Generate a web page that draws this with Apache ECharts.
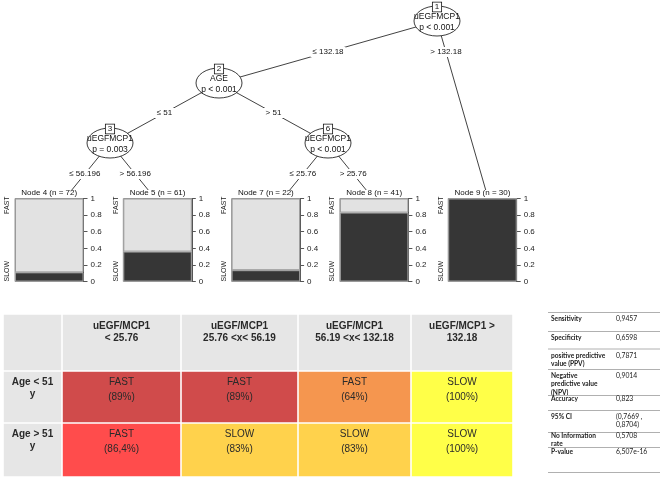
<!DOCTYPE html>
<html><head><meta charset="utf-8">
<script src="https://cdn.jsdelivr.net/npm/echarts@6/dist/echarts.min.js"></script>
<style>html,body{margin:0;padding:0;background:#fff}#c{width:671px;height:483px}</style>
</head><body><div id="c"></div>
<script>
// ---------------- data ----------------
const innerNodes = ['1', '2', '3', '6'];
const innerVars = ['uEGFMCP1', 'AGE', 'uEGFMCP1', 'uEGFMCP1'];
const innerPvals = ['p < 0.001', 'p < 0.001', 'p = 0.003', 'p < 0.001'];
const leafIds = ['4', '5', '7', '8', '9'];
const leafN = [72, 61, 22, 41, 30];
const slowShare = [0.11, 0.36, 0.136, 0.83, 1.0];
const fastShare = [0.89, 0.64, 0.864, 0.17, 0.0];
const classLabels = ['SLOW', 'FAST'];
const yTickStep = 0.2;
const edgeFrom = ['1', '1', '2', '2', '3', '3', '6', '6'];
const edgeTo = ['2', '9', '3', '6', '4', '5', '7', '8'];
const edgeLabels = ['≤ 132.18', '> 132.18', '≤ 51', '> 51', '≤ 56.196', '> 56.196', '≤ 25.76', '> 25.76'];

const colHeaders = ['', 'uEGF/MCP1\n< 25.76', 'uEGF/MCP1\n25.76 <x< 56.19', 'uEGF/MCP1\n56.19 <x< 132.18', 'uEGF/MCP1 >\n132.18'];
const rowHeaders = ['Age < 51\ny', 'Age > 51\ny'];
const cellClass = [['FAST', 'FAST', 'FAST', 'SLOW'], ['FAST', 'SLOW', 'SLOW', 'SLOW']];
const cellPct = [['89%', '89%', '64%', '100%'], ['86,4%', '83%', '83%', '100%']];

const statLabels = ['Sensitivity', 'Specificity', 'positive predictive\nvalue (PPV)', 'Negative\npredictive value\n(NPV)', 'Accuracy', '95% CI', 'No Information\nrate', 'P-value'];
const statValues = ['0,9457', '0,6598', '0,7871', '0,9014', '0,823', '(0,7669 ,\n0,8704)', '0,5708', '6,507e-16'];

// ---------------- layout & style ----------------
const F = "'Liberation Sans', Arial, Helvetica, sans-serif";
const FN = "Lato, 'Liberation Sans', sans-serif";
const nodePos = {'1': [437, 21], '2': [219, 83], '3': [110, 143], '6': [328, 143]};
const leafCenterX = [55.5, 164.5, 273.5, 382.5, 491.5];
const leafAimY = 210, leafTopY = 190;
const levelLabelY = {'1': 52, '2': 113, '3': 174, '6': 174};
const panelLeft = [15, 123.3, 231.6, 339.9, 448.2];
const panelW = 68.5, panelTop = 198.5, panelH = 83;
const colEdges = [3, 62, 181, 298, 411, 513];
const rowEdges = [314, 371, 423, 477];
const headBg = '#e6e6e6';
const cellColors = [['#d04b4b', '#d04b4b', '#f5964f', '#ffff48'], ['#ff4c4c', '#ffd24c', '#ffd24c', '#ffff48']];
const statLineY = [312, 331, 348.5, 369, 395, 410, 432, 447, 472];
const statTextY = [318.5, 337.5, 355.5, 376, 398.5, 417, 436, 452];
const statX0 = 548, statX1 = 660, statLabelX = 551, statValueX = 616, statLH = 8.2;
const ellipse = 'path://M0,50A50,50,0,1,1,100,50A50,50,0,1,1,0,50Z';

// ---------------- tree graph ----------------
const pos = {};
innerNodes.forEach(id => pos[id] = nodePos[id]);
const parentOf = {};
edgeTo.forEach((c, k) => parentOf[c] = edgeFrom[k]);
leafIds.forEach((id, i) => {
  const p = pos[parentOf[id]];
  const x = p[0] + (leafCenterX[i] - p[0]) * (leafTopY - p[1]) / (leafAimY - p[1]);
  pos[id] = [x, leafTopY];
});
const gNodes = [], gLinks = [];
const invisible = {color: 'rgba(0,0,0,0)', borderWidth: 0};
innerNodes.forEach((id, i) => {
  gNodes.push({
    name: id, value: pos[id], symbol: ellipse, symbolSize: [46, 30],
    itemStyle: {color: '#fff', borderColor: '#111', borderWidth: 0.8},
    z: 3,
    label: {
      show: true, position: 'inside', offset: [0, -3.5],
      formatter: '{b|' + id + '}\n{t|' + innerVars[i] + '}\n{t|' + innerPvals[i] + '}',
      rich: {
        b: {fontSize: 8, fontFamily: F, color: '#111', borderColor: '#111', borderWidth: 0.8, backgroundColor: '#fff', padding: [0, 2], lineHeight: 9, height: 9},
        t: {fontSize: 8.5, fontFamily: F, color: '#111', lineHeight: 10.5}
      }
    }
  });
});
leafIds.forEach(id => {
  gNodes.push({name: id, value: pos[id], symbol: 'circle', symbolSize: 1, itemStyle: invisible, label: {show: false}});
});
edgeFrom.forEach((p, k) => {
  const c = edgeTo[k];
  const a = pos[p], b = pos[c];
  const y = levelLabelY[p];
  const t = (y - a[1]) / (b[1] - a[1]);
  const x = a[0] + t * (b[0] - a[0]);
  const nm = 'e' + k;
  gNodes.push({
    name: nm, value: [x, y], symbol: 'circle', symbolSize: 1, itemStyle: invisible,
    label: {show: true, position: 'inside', formatter: edgeLabels[k], fontSize: 8, fontFamily: F, color: '#111',
      backgroundColor: '#fff', padding: [1, 2]}
  });
  gLinks.push({source: p, target: nm});
  gLinks.push({source: nm, target: c});
});

// ---------------- option ----------------
const grids = [{left: 0, top: 0, width: 671, height: 483, show: false}];
const xAxes = [{type: 'value', gridIndex: 0, min: 0, max: 671, show: false}];
const yAxes = [{type: 'value', gridIndex: 0, min: 0, max: 483, inverse: true, show: false}];
const series = [];

leafIds.forEach((id, i) => {
  const g = i + 1;
  grids.push({left: panelLeft[i], top: panelTop, width: panelW, height: panelH, show: true, borderColor: '#999', borderWidth: 1, backgroundColor: 'transparent'});
  xAxes.push({
    type: 'category', gridIndex: g, position: 'top', data: ['Node ' + id + ' (n = ' + leafN[i] + ')'],
    axisLine: {show: false}, axisTick: {show: false},
    axisLabel: {show: true, fontSize: 8, fontFamily: F, color: '#111', margin: 1.5, interval: 0}
  });
  yAxes.push({
    type: 'value', gridIndex: g, position: 'right', min: 0, max: 1, interval: yTickStep,
    axisLine: {show: true, lineStyle: {color: '#555', width: 1}},
    axisTick: {show: true, length: 4, lineStyle: {color: '#555'}},
    splitLine: {show: false},
    axisLabel: {fontSize: 8, fontFamily: F, color: '#222', margin: 7}
  });
  yAxes.push({
    type: 'value', gridIndex: g, position: 'left', min: 0, max: 1,
    axisLine: {show: false}, axisTick: {show: false}, splitLine: {show: false},
    axisLabel: {show: true, customValues: [0.124, 0.92], rotate: 90, fontSize: 7, fontFamily: F, color: '#222', margin: 4,
      formatter: v => v < 0.5 ? classLabels[0] : classLabels[1]}
  });
  series.push({
    type: 'bar', name: classLabels[0], xAxisIndex: g, yAxisIndex: 2 * i + 1, stack: 's' + i,
    data: [slowShare[i]], barWidth: '100%', silent: true,
    itemStyle: {color: '#363636', borderColor: '#999', borderWidth: 1}
  });
  series.push({
    type: 'bar', name: classLabels[1], xAxisIndex: g, yAxisIndex: 2 * i + 1, stack: 's' + i,
    data: [fastShare[i]], barWidth: '100%', silent: true,
    itemStyle: {color: '#e2e2e2', borderColor: '#999', borderWidth: 1}
  });
});

series.push({
  type: 'graph', coordinateSystem: 'cartesian2d', xAxisIndex: 0, yAxisIndex: 0,
  data: gNodes, links: gLinks, silent: true, z: 5,
  lineStyle: {color: '#111', width: 0.8, opacity: 1, curveness: 0},
  emphasis: {disabled: true}
});

// main table
const cells = [];
for (let r = 0; r < 3; r++) for (let c = 0; c < 5; c++) cells.push([c, r]);
series.push({
  type: 'custom', xAxisIndex: 0, yAxisIndex: 0, data: cells, silent: true, clip: false,
  renderItem: (params, api) => {
    const c = api.value(0), r = api.value(1);
    const p0 = api.coord([colEdges[c], rowEdges[r]]);
    const p1 = api.coord([colEdges[c + 1], rowEdges[r + 1]]);
    const g = 0.8;
    let fill = headBg, text = '', font = {fontSize: 10, fontWeight: 'bold', lineHeight: 12}, pad = 6.5;
    if (r === 0) { text = colHeaders[c]; }
    else if (c === 0) { text = rowHeaders[r - 1]; pad = 5.5; }
    else {
      fill = cellColors[r - 1][c - 1];
      text = cellClass[r - 1][c - 1] + '\n(' + cellPct[r - 1][c - 1] + ')';
      font = {fontSize: 10, fontWeight: 'normal', lineHeight: 14.5}; pad = 4;
    }
    return {
      type: 'group', children: [
        {type: 'rect', shape: {x: p0[0] + g, y: p0[1] + g, width: p1[0] - p0[0] - 2 * g, height: p1[1] - p0[1] - 2 * g}, style: {fill: fill}},
        {type: 'text', style: {text: text, x: (p0[0] + p1[0]) / 2, y: p0[1] + pad, align: 'center', verticalAlign: 'top',
          fontSize: font.fontSize, fontWeight: font.fontWeight, lineHeight: font.lineHeight, fontFamily: F, fill: '#2a2a2a'}}
      ]
    };
  }
});

// side stats table
series.push({
  type: 'custom', xAxisIndex: 0, yAxisIndex: 0, data: statLabels.map((s, i) => [i]), silent: true, clip: false,
  renderItem: (params, api) => {
    const i = api.value(0);
    const a = api.coord([statX0, statLineY[i]]), b = api.coord([statX1, statLineY[i]]);
    const ty = api.coord([0, statTextY[i] - statLH / 2])[1];
    const lx = api.coord([statLabelX, 0])[0], vx = api.coord([statValueX, 0])[0];
    const ch = [
      {type: 'line', shape: {x1: a[0], y1: a[1] + 0.5, x2: b[0], y2: b[1] + 0.5}, style: {stroke: '#b0b0b0', lineWidth: 1}},
      {type: 'text', style: {text: statLabels[i], x: lx, y: ty, align: 'left', verticalAlign: 'top', fontSize: 6.6, fontWeight: 'bold', lineHeight: statLH, fontFamily: FN, fill: '#222'}},
      {type: 'text', style: {text: statValues[i], x: vx, y: ty, align: 'left', verticalAlign: 'top', fontSize: 6.8, lineHeight: statLH, fontFamily: FN, fill: '#222'}}
    ];
    if (i === statLabels.length - 1) {
      const e = api.coord([statX0, statLineY[i + 1]]), f = api.coord([statX1, statLineY[i + 1]]);
      ch.push({type: 'line', shape: {x1: e[0], y1: e[1] + 0.5, x2: f[0], y2: f[1] + 0.5}, style: {stroke: '#b0b0b0', lineWidth: 1}});
    }
    return {type: 'group', children: ch};
  }
});

const chart = echarts.init(document.getElementById('c'));
chart.setOption({animation: false, backgroundColor: '#fff', grid: grids, xAxis: xAxes, yAxis: yAxes, series: series});
</script></body></html>
